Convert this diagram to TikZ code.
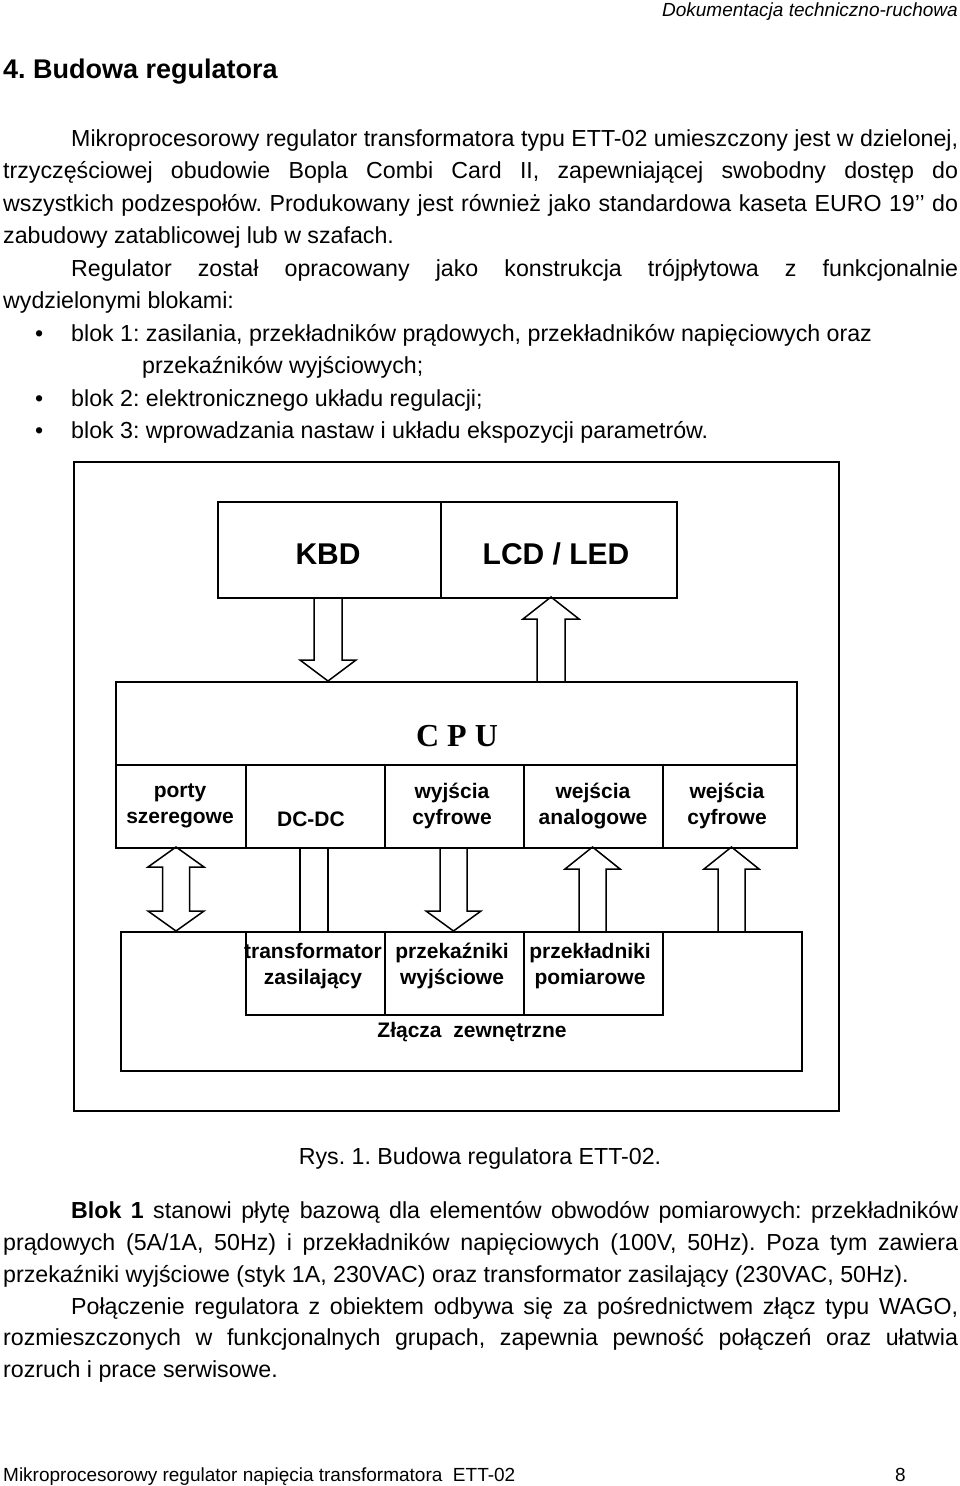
\documentclass[tikz,border=0pt]{standalone}
\usepackage{fontspec}
\setmainfont{Liberation Sans}
\newfontfamily\cpufont{Liberation Serif}
\frenchspacing
\begin{document}
\begin{tikzpicture}[x=1pt,y=-1pt,
  txt/.style={anchor=base west, inner sep=0, font=\fontsize{23.2}{26}\selectfont},
  hdr/.style={anchor=base east, inner sep=0, font=\fontsize{19}{22}\selectfont\itshape},
  foot/.style={anchor=base west, inner sep=0, font=\fontsize{19}{22}\selectfont},
  box/.style={draw, line width=1.5pt, inner sep=0, anchor=north west},
  lbl/.style={font=\fontsize{21}{26}\selectfont\bfseries, align=center, inner sep=0},
  big/.style={font=\fontsize{30}{30}\selectfont\bfseries, inner sep=0},
  barrow/.style={draw, line width=1.5pt, line join=miter}]
\useasboundingbox (0,0) rectangle (960,1486);

% header
\node[hdr] (head) at (958,16) {Dokumentacja techniczno-ruchowa};
\node[anchor=base west, inner sep=0, font=\fontsize{27}{30}\selectfont\bfseries] (title) at (3,78) {4. Budowa regulatora};

% first paragraph
\node[txt] (l1) at (71,146) {\makebox[887pt][s]{Mikroprocesorowy regulator transformatora typu ETT-02 umieszczony jest w dzielonej,}};
\node[txt] (l2) at (3,178.5) {\makebox[955pt][s]{trzyczęściowej obudowie Bopla Combi Card II, zapewniającej swobodny dostęp do}};
\node[txt] (l3) at (3,211) {\makebox[955pt][s]{wszystkich podzespołów. Produkowany jest również jako standardowa kaseta EURO 19’’ do}};
\node[txt] (l4) at (3,243.5) {zabudowy zatablicowej lub w szafach.};
\node[txt] (l5) at (71,276) {\makebox[887pt][s]{Regulator został opracowany jako konstrukcja trójpłytowa z funkcjonalnie}};
\node[txt] (l6) at (3,308.5) {wydzielonymi blokami:};
\node[txt] (b1) at (35,341) {•};
\node[txt] (l7) at (71,341) {blok 1: zasilania, przekładników prądowych, przekładników napięciowych oraz};
\node[txt] (l8) at (142,373.5) {przekaźników wyjściowych;};
\node[txt] (b2) at (35,406) {•};
\node[txt] (l9) at (71,406) {blok 2: elektronicznego układu regulacji;};
\node[txt] (b3) at (35,438.5) {•};
\node[txt] (l10) at (71,438.5) {blok 3: wprowadzania nastaw i układu ekspozycji parametrów.};

% diagram boxes
\node[box, minimum width=765, minimum height=649] (outer) at (73,461) {};
\node[box, minimum width=223, minimum height=96] (kbd) at (217,501) {};
\node[box, minimum width=236, minimum height=96] (lcd) at (440,501) {};
\node[big] (kbdt) at (328,554) {KBD};
\node[big] (lcdt) at (556,554) {LCD / LED};

\node[box, minimum width=681, minimum height=83] (cpu) at (115,681) {};
\node[font=\fontsize{32}{32}\selectfont\cpufont\bfseries, inner sep=0] (cput) at (457,736) {C P U};
\node[box, minimum width=130, minimum height=83] (c1) at (115,764) {};
\node[box, minimum width=139, minimum height=83] (c2) at (245,764) {};
\node[box, minimum width=139, minimum height=83] (c3) at (384,764) {};
\node[box, minimum width=139, minimum height=83] (c4) at (523,764) {};
\node[box, minimum width=134, minimum height=83] (c5) at (662,764) {};
\node[lbl] (c1t) at (180,806) {porty\\szeregowe};
\node[lbl] (c2t) at (311,819) {DC-DC};
\node[lbl] (c3t) at (452,806) {wyjścia\\cyfrowe};
\node[lbl] (c4t) at (593,806) {wejścia\\analogowe};
\node[lbl] (c5t) at (727,806) {wejścia\\cyfrowe};

\node[box, minimum width=681, minimum height=139] (ext) at (120,931) {};
\node[box, minimum width=139, minimum height=83] (e1) at (245,931) {};
\node[box, minimum width=139, minimum height=83] (e2) at (384,931) {};
\node[box, minimum width=139, minimum height=83] (e3) at (523,931) {};
\node[lbl] (e1t) at (313,966) {transformator\\zasilający};
\node[lbl] (e2t) at (452,966) {przekaźniki\\wyjściowe};
\node[lbl] (e3t) at (590,966) {przekładniki\\pomiarowe};
\node[lbl] (extt) at (472,1032) {Złącza~ zewnętrzne};

% block arrows
% KBD -> CPU (down)
\draw[barrow] (314,597) -- (314,660) -- (300,660) -- (328,681) -- (356,660) -- (342,660) -- (342,597);
% CPU -> LCD (up)
\draw[barrow] (537,681) -- (537,619) -- (523,619) -- (551,597) -- (579,619) -- (565,619) -- (565,681);
% porty szeregowe <-> zlacza (double)
\draw[barrow] (162.5,867) -- (148,867) -- (176,847) -- (204,867) -- (189.5,867) -- (189.5,911) -- (204,911) -- (176,931) -- (148,911) -- (162.5,911) -- cycle;
% DC-DC (plain band)
\draw[barrow] (300,847) -- (300,931);
\draw[barrow] (328,847) -- (328,931);
% wyjscia cyfrowe (down)
\draw[barrow] (440,847) -- (440,911) -- (426,911) -- (453.5,931) -- (481,911) -- (467,911) -- (467,847);
% wejscia analogowe (up)
\draw[barrow] (579,931) -- (579,869) -- (565,869) -- (592.5,847) -- (620,869) -- (606,869) -- (606,931);
% wejscia cyfrowe (up)
\draw[barrow] (718,931) -- (718,869) -- (704,869) -- (731.5,847) -- (759,869) -- (745,869) -- (745,931);

% caption
\node[anchor=base, inner sep=0, font=\fontsize{23.2}{26}\selectfont] (cap) at (480,1164) {Rys. 1. Budowa regulatora ETT-02.};

% second paragraph
\node[txt] (p1) at (71,1218) {\makebox[887pt][s]{\textbf{Blok 1} stanowi płytę bazową dla elementów obwodów pomiarowych: przekładników}};
\node[txt] (p2) at (3,1250) {\makebox[955pt][s]{prądowych (5A/1A, 50Hz) i przekładników napięciowych (100V, 50Hz). Poza tym zawiera}};
\node[txt] (p3) at (3,1282) {przekaźniki wyjściowe (styk 1A, 230VAC) oraz transformator zasilający (230VAC, 50Hz).};
\node[txt] (p4) at (71,1314) {\makebox[887pt][s]{Połączenie regulatora z obiektem odbywa się za pośrednictwem złącz typu WAGO,}};
\node[txt] (p5) at (3,1345) {\makebox[955pt][s]{rozmieszczonych w funkcjonalnych grupach, zapewnia pewność połączeń oraz ułatwia}};
\node[txt] (p6) at (3,1377) {rozruch i prace serwisowe.};

% footer
\node[foot] (f1) at (3,1481) {Mikroprocesorowy regulator napięcia transformatora~ ETT-02};
\node[foot] (f2) at (895,1481) {8};
\end{tikzpicture}
\end{document}
